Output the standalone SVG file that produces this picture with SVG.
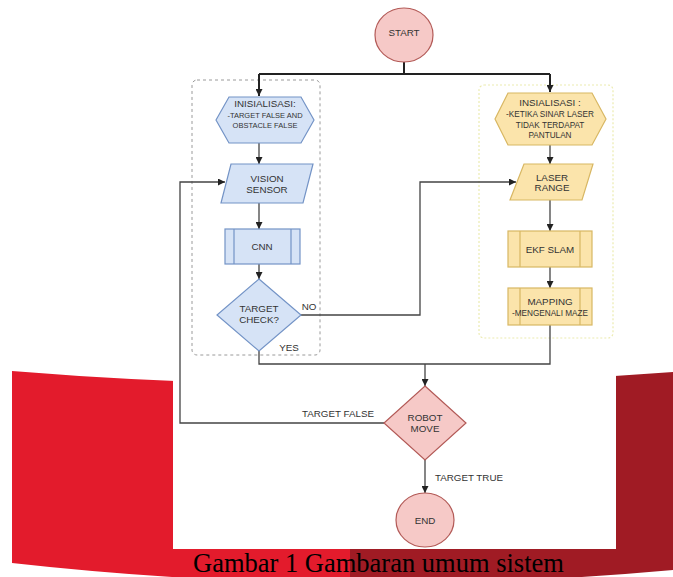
<svg xmlns="http://www.w3.org/2000/svg" width="673" height="577" viewBox="0 0 673 577">
  <defs>
    <marker id="arrow" viewBox="0 0 8 8" refX="8" refY="4" markerWidth="7" markerHeight="7" markerUnits="userSpaceOnUse" orient="auto">
      <path d="M0,0 L8,4 L0,8 Z" fill="#222"/>
    </marker>
    <clipPath id="ribbonClip">
      <path d="M12,371 Q342,398 673,372 L673,570 Q342,600 12,563 Z"/>
    </clipPath>
    <style>
      .lbl { font-family: "Liberation Sans", Arial, sans-serif; font-size: 9.8px; fill: #333; text-anchor: middle; }
      .sm { font-family: "Liberation Sans", Arial, sans-serif; font-size: 7.5px; fill: #333; text-anchor: middle; }
      .smr { font-family: "Liberation Sans", Arial, sans-serif; font-size: 8.2px; fill: #333; text-anchor: middle; }
      .blue { fill: #d6e3f6; stroke: #7393c6; stroke-width: 1.2; }
      .yel { fill: #fbe4ab; stroke: #d8b763; stroke-width: 1.2; }
      .pink { fill: #f6c9c7; stroke: #b35a57; stroke-width: 1.2; }
      .edge { fill: none; stroke: #444; stroke-width: 1.3; }
      .edge-top { fill: none; stroke: #222; stroke-width: 2; }
      .caption { font-family: "Liberation Serif", "Times New Roman", serif; font-size: 26.5px; fill: #000; }
    </style>
  </defs>

  <!-- page background -->
  <rect x="0" y="0" width="673" height="577" fill="#ffffff"/>

  <!-- red ribbon behind the figure -->
  <g id="ribbon" clip-path="url(#ribbonClip)">
    <rect x="0" y="360" width="350" height="217" fill="#e31b2c"/>
    <rect x="350" y="360" width="323" height="217" fill="#a01b24"/>
  </g>

  <!-- white figure panel -->
  <rect id="panel" x="173" y="0" width="443" height="549" fill="#ffffff"/>

  <!-- swimlane containers -->
  <g id="lane-vision">
    <rect x="192" y="80" width="128" height="275" rx="5" fill="none" stroke="#9a9a9a" stroke-width="1" stroke-dasharray="3 3"/>
  </g>
  <g id="lane-laser">
    <rect x="479" y="85" width="134" height="253" rx="5" fill="none" stroke="#ecebb0" stroke-width="1.2" stroke-dasharray="2 2"/>
  </g>

  <!-- connectors -->
  <g id="connectors">
    <path class="edge-top" d="M404,62 V74"/>
    <path class="edge-top" d="M259,74 H550"/>
    <path class="edge-top" d="M259,74 V96" marker-end="url(#arrow)"/>
    <path class="edge-top" d="M550,74 V92" marker-end="url(#arrow)"/>

    <path class="edge" d="M259,143 V164" marker-end="url(#arrow)"/>
    <path class="edge" d="M259,203 V229" marker-end="url(#arrow)"/>
    <path class="edge" d="M259,264 V279" marker-end="url(#arrow)"/>

    <path class="edge" d="M550,145 V164" marker-end="url(#arrow)"/>
    <path class="edge" d="M550,200 V231" marker-end="url(#arrow)"/>
    <path class="edge" d="M550,267 V288" marker-end="url(#arrow)"/>

    <!-- NO branch to laser range -->
    <path class="edge" d="M301,315 H420 V182 H516" marker-end="url(#arrow)"/>
    <!-- YES branch and mapping output join -->
    <path class="edge" d="M259,351 V364 H550 V325"/>
    <path class="edge" d="M425,364 V386" marker-end="url(#arrow)"/>
    <!-- target false loops back to vision sensor -->
    <path class="edge" d="M384,423 H180 V182 H225" marker-end="url(#arrow)"/>
    <!-- target true -->
    <path class="edge" d="M425,460 V493" marker-end="url(#arrow)"/>

    <text class="lbl" x="309" y="309.5">NO</text>
    <text class="lbl" x="289" y="350.5">YES</text>
    <text class="lbl" x="338" y="416.5">TARGET FALSE</text>
    <text class="lbl" x="469" y="480.5">TARGET TRUE</text>
  </g>

  <!-- nodes -->
  <g id="start">
    <ellipse class="pink" cx="404" cy="35" rx="29" ry="27"/>
    <text class="lbl" x="404" y="35.5">START</text>
  </g>

  <g id="init-vision">
    <polygon class="blue" points="216,120 229,97 301,97 314,120 301,143 229,143"/>
    <text class="lbl" x="265" y="106.5">INISIALISASI:</text>
    <text class="sm" x="265" y="117.5">-TARGET FALSE AND</text>
    <text class="sm" x="265" y="127.5">OBSTACLE FALSE</text>
  </g>

  <g id="vision-sensor">
    <polygon class="blue" points="231,164 313,164 303,203 221,203"/>
    <text class="lbl" x="267" y="181.5">VISION</text>
    <text class="lbl" x="267" y="192.5">SENSOR</text>
  </g>

  <g id="cnn">
    <rect class="blue" x="225" y="229" width="75" height="35"/>
    <path d="M234,229 V264 M291,229 V264" stroke="#7393c6" stroke-width="1.2" fill="none"/>
    <text class="lbl" x="262" y="250">CNN</text>
  </g>

  <g id="target-check">
    <polygon class="blue" points="259,279 301,315 259,351 217,315"/>
    <text class="lbl" x="259" y="311.5">TARGET</text>
    <text class="lbl" x="259" y="322.5">CHECK?</text>
  </g>

  <g id="init-laser">
    <polygon class="yel" points="495,119 508,93 592,93 606,119 592,145 508,145"/>
    <text class="lbl" x="550" y="106.3">INSIALISASI :</text>
    <text class="smr" x="550" y="117">-KETIKA SINAR LASER</text>
    <text class="smr" x="550" y="128">TIDAK TERDAPAT</text>
    <text class="smr" x="550" y="138">PANTULAN</text>
  </g>

  <g id="laser-range">
    <polygon class="yel" points="524,164 593,164 582,200 510,200"/>
    <text class="lbl" x="552" y="180.5">LASER</text>
    <text class="lbl" x="552" y="191">RANGE</text>
  </g>

  <g id="ekf-slam">
    <rect class="yel" x="508" y="231" width="84" height="36"/>
    <path d="M520,231 V267 M580,231 V267" stroke="#d8b763" stroke-width="1.2" fill="none"/>
    <text class="lbl" x="550" y="252.5">EKF SLAM</text>
  </g>

  <g id="mapping">
    <rect class="yel" x="508" y="288" width="84" height="37"/>
    <path d="M520,288 V325 M580,288 V325" stroke="#d8b763" stroke-width="1.2" fill="none"/>
    <text class="lbl" x="550" y="304.5">MAPPING</text>
    <text class="smr" x="550" y="316">-MENGENALI MAZE</text>
  </g>

  <g id="robot-move">
    <polygon class="pink" points="425,386 466,423 425,460 384,423"/>
    <text class="lbl" x="425" y="421">ROBOT</text>
    <text class="lbl" x="425" y="431.5">MOVE</text>
  </g>

  <g id="end">
    <ellipse class="pink" cx="425" cy="520" rx="29" ry="27"/>
    <text class="lbl" x="425" y="524">END</text>
  </g>

  <!-- figure caption -->
  <text class="caption" x="193" y="572">Gambar 1 Gambaran umum sistem</text>
</svg>
